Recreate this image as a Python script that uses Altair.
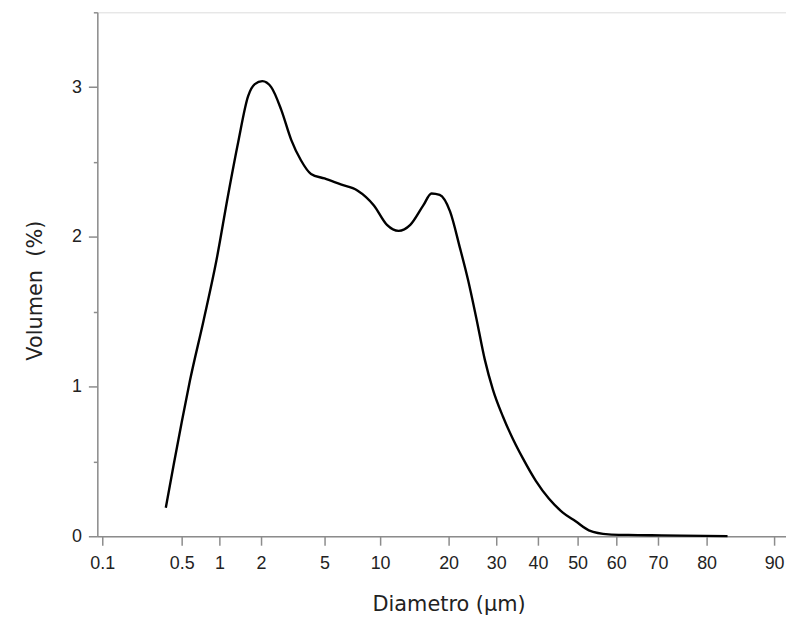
import altair as alt
import pandas as pd

# Particle size distribution
diameter = [0.42, 0.46, 0.50, 0.61, 0.79, 0.96, 1.21, 1.45, 1.69, 1.85, 2.06, 2.48,
            2.95, 3.42, 3.89, 4.36, 5.0, 6.46, 7.95, 9.44, 11.0, 12.7, 14.4, 16.3,
            17.5, 18.7, 20.3, 22.35, 24.1, 25.8, 27.6, 29.3, 31.6, 34.0, 36.4, 39.5,
            42.8, 46.2, 49.5, 52.9, 58.0, 62.9, 70.8, 83.1]
volume = [0.19, 0.48, 0.76, 1.04, 1.44, 1.84, 2.28, 2.63, 2.94, 3.02, 3.04, 3.00,
          2.85, 2.65, 2.51, 2.42, 2.39, 2.35, 2.31, 2.21, 2.08, 2.04, 2.08, 2.21,
          2.29, 2.28, 2.17, 1.93, 1.71, 1.46, 1.18, 0.98, 0.80, 0.65, 0.52, 0.37,
          0.25, 0.16, 0.10, 0.04, 0.013, 0.009, 0.006, 0.001]

x_ticks = [0.1, 0.5, 1, 2, 5, 10, 20, 30, 40, 50, 60, 70, 80, 90]
y_ticks = [0, 0.5, 1, 1.5, 2, 2.5, 3, 3.5]

# piecewise axis of the original instrument plot
x_domain = [0.075] + x_ticks + [91.8]
x_range = [0, 5, 85, 123, 165, 229, 285, 354, 402, 444, 484, 523, 565, 614, 682, 694]

df = pd.DataFrame({"d": diameter, "v": volume})

W, H = 694, 528
AX = "#8c8c8c"
LBL = "#222222"

chart = alt.Chart(df).mark_line(
    color="black", strokeWidth=2.4, interpolate="monotone"
).encode(
    x=alt.X(
        "d:Q",
        scale=alt.Scale(domain=x_domain, range=x_range, zero=False, nice=False),
        axis=alt.Axis(
            values=x_ticks, format="~g", title="Diametro (µm)",
            grid=False, domainColor=AX, domainWidth=1.5, tickColor=AX,
            tickWidth=1.5, tickSize=9, labelPadding=9, labelFontSize=18,
            labelFont="Liberation Sans", labelColor=LBL, labelFlush=False,
            labelOverlap=False,
            titleFont="DejaVu Sans", titleFontSize=21, titleFontWeight="normal",
            titleColor=LBL, titleX=354, titleY=75, titleAlign="center",
            titleBaseline="alphabetic",
        ),
    ),
    y=alt.Y(
        "v:Q",
        scale=alt.Scale(domain=[0, 3.5], zero=False, nice=False),
        axis=alt.Axis(
            values=y_ticks, format="~g",
            labelExpr="datum.value % 1 === 0 ? datum.label : ''",
            title="Volumen\u00a0 (%)",
            grid=False, domainColor=AX, domainWidth=1.5, tickColor=AX,
            tickWidth=1.5,
            tickSize={"condition": {"test": "datum.value % 1 !== 0", "value": 4}, "value": 9},
            labelPadding=7, labelFontSize=18, labelFont="Liberation Sans",
            labelColor=LBL, labelFlush=False, labelOverlap=False,
            titleFont="DejaVu Sans", titleFontSize=21, titleFontWeight="normal",
            titleColor=LBL, titleAngle=270, titleX=-62, titleY=280,
            titleAlign="center", titleBaseline="middle",
        ),
    ),
).properties(
    width=W, height=H,
    autosize=alt.AutoSizeParams(type="none"),
    padding={"left": 90, "top": 2, "right": 0, "bottom": 78},
).configure_view(stroke=None).configure(background="white")

chart.save("out.html", embed_options={"renderer": "svg", "actions": False})
